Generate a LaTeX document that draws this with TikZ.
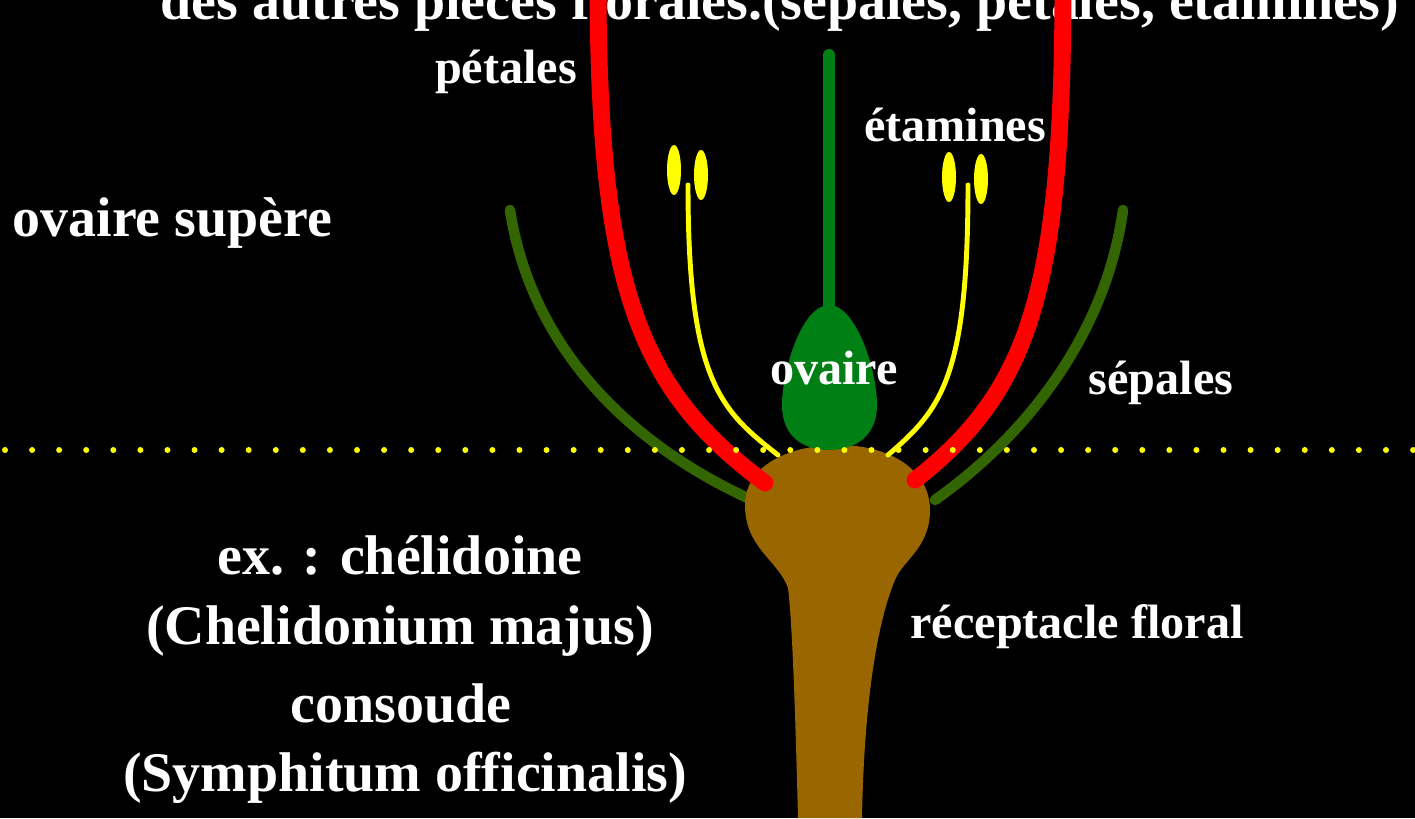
\documentclass[tikz,border=0pt]{standalone}
\usepackage{fontspec}
\setmainfont{Liberation Serif}
\usepackage{tikz}
\definecolor{petalred}{RGB}{255,0,0}
\definecolor{sepalgreen}{RGB}{51,102,0}
\definecolor{pistilgreen}{RGB}{0,128,20}
\definecolor{stamenyellow}{RGB}{255,255,0}
\definecolor{receptbrown}{RGB}{153,102,0}
\tikzset{every picture/.append style={x=0.01cm,y=-0.01cm}}
\tikzset{petal/.style={line width=4.8pt, petalred, line cap=round}}
\tikzset{sepal/.style={line width=3pt, sepalgreen, line cap=round}}
\tikzset{filament/.style={line width=1.4pt, stamenyellow, line cap=round}}
\tikzset{anther/.style={fill=stamenyellow}}
\tikzset{pistil/.style={fill=pistilgreen}}
\tikzset{label/.style={text=white, font=\fontsize{13.7}{16}\selectfont\bfseries}}
\tikzset{biglabel/.style={text=white, font=\fontsize{15.9}{18}\selectfont\bfseries}}
\tikzset{limit/.style={stamenyellow, line width=1.7pt, line cap=round, dash pattern=on 0pt off 7.7pt}}

\begin{document}
\begin{tikzpicture}
\fill[black] (0,0) rectangle (1415,818);
\useasboundingbox (0,0) rectangle (1415,818);
\begin{scope}
\clip (0,0) rectangle (1415,818);
\node (title) at (160,19)[biglabel, anchor=base west, inner sep=0pt]{des autres pièces florales.(sépales, pétales, étamines)};

% sepales
\draw[sepal] (510,210) .. controls (530,340) and (620,440) .. (752,500);
\draw[sepal] (1123,210) .. controls (1105,340) and (1020,440) .. (935,500);

% receptacle
\fill[receptbrown] (798,818) .. controls (795,700) and (792,620) .. (788,588)
  .. controls (778,560) and (745,548) .. (745,505)
  .. controls (745,465) and (790,445) .. (838,445)
  .. controls (890,445) and (930,470) .. (930,510)
  .. controls (930,548) and (903,560) .. (895,580)
  .. controls (878,620) and (864,700) .. (862,818) -- cycle;

% petales
\draw[petal] (598,-20) .. controls (598,290) and (640,390) .. (765,483);
\draw[petal] (1063,-20) .. controls (1063,290) and (1030,390) .. (915,480);

% etamines
\draw[filament] (688,185) .. controls (688,380) and (720,410) .. (778,455);
\draw[filament] (968,185) .. controls (968,380) and (940,410) .. (888,455);
\fill[anther] (674,170) ellipse (7 and 25);
\fill[anther] (701,175) ellipse (7 and 25);
\fill[anther] (949,177) ellipse (7 and 25);
\fill[anther] (981,179) ellipse (7 and 25);

% pistil: style + ovaire
\draw[pistilgreen, line width=3.4pt, line cap=round] (829,55) -- (829,320);
\fill[pistil] (829,305) .. controls (802,305) and (782,370) .. (782,405)
  .. controls (782,438) and (805,450) .. (829,450)
  .. controls (853,450) and (877,438) .. (877,405)
  .. controls (877,370) and (856,305) .. (829,305) -- cycle;

% limite
\draw[limit] (5,450) -- (1415,450);
\end{scope}

\node (pet) at (506,72)[label]{pétales};
\node (eta) at (955,125)[label]{étamines};
\node (ova) at (834,368)[label]{ovaire};
\node (sep) at (1161,383)[label]{sépales};
\node (rec) at (1077,627)[label]{réceptacle floral};
\node (sup) at (12,223)[biglabel, anchor=west, inner sep=0pt]{ovaire supère};
\node (ex1) at (400,555)[biglabel]{ex. : chélidoine};
\node (ex2) at (400,631)[biglabel]{(Chelidonium majus)};
\node (ex3) at (401,703)[biglabel]{consoude};
\node (ex4) at (405,778)[biglabel]{(Symphitum officinalis)};
\end{tikzpicture}
\end{document}
